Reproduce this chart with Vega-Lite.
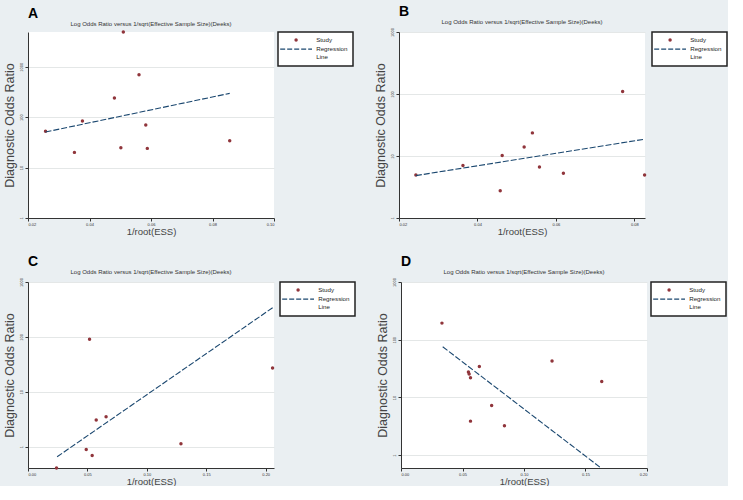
{
  "$schema": "https://vega.github.io/schema/vega-lite/v6.json",
  "background": "#eaeff2",
  "padding": {"left": 3, "top": 4, "right": 0, "bottom": 0},
  "datasets": {
    "A": [
      {"x": 0.0257, "dor": 52.3, "series": "Study"},
      {"x": 0.0351, "dor": 20.0, "series": "Study"},
      {"x": 0.0377, "dor": 84, "series": "Study"},
      {"x": 0.0481, "dor": 240, "series": "Study"},
      {"x": 0.0502, "dor": 24.8, "series": "Study"},
      {"x": 0.0510, "dor": 4875, "series": "Study"},
      {"x": 0.0561, "dor": 695, "series": "Study"},
      {"x": 0.0583, "dor": 69.8, "series": "Study"},
      {"x": 0.0588, "dor": 24, "series": "Study"},
      {"x": 0.0856, "dor": 34.1, "series": "Study"},
      {"x": 0.0257, "dor": 50.7, "series": "Regression Line"},
      {"x": 0.0856, "dor": 296, "series": "Regression Line"}
    ],
    "B": [
      {"x": 0.0243, "dor": 4.95, "series": "Study"},
      {"x": 0.0363, "dor": 7.0, "series": "Study"},
      {"x": 0.0458, "dor": 2.76, "series": "Study"},
      {"x": 0.0463, "dor": 10.2, "series": "Study"},
      {"x": 0.0519, "dor": 14.0, "series": "Study"},
      {"x": 0.0540, "dor": 23.6, "series": "Study"},
      {"x": 0.0558, "dor": 6.67, "series": "Study"},
      {"x": 0.0619, "dor": 5.27, "series": "Study"},
      {"x": 0.0770, "dor": 110, "series": "Study"},
      {"x": 0.0826, "dor": 4.95, "series": "Study"},
      {"x": 0.0243, "dor": 4.83, "series": "Regression Line"},
      {"x": 0.0827, "dor": 18.7, "series": "Regression Line"}
    ],
    "C": [
      {"x": 0.024, "dor": 0.41, "series": "Study"},
      {"x": 0.049, "dor": 0.89, "series": "Study"},
      {"x": 0.0518, "dor": 91, "series": "Study"},
      {"x": 0.054, "dor": 0.695, "series": "Study"},
      {"x": 0.0574, "dor": 3.06, "series": "Study"},
      {"x": 0.0657, "dor": 3.52, "series": "Study"},
      {"x": 0.1287, "dor": 1.13, "series": "Study"},
      {"x": 0.2058, "dor": 27.1, "series": "Study"},
      {"x": 0.0245, "dor": 0.657, "series": "Regression Line"},
      {"x": 0.2067, "dor": 350, "series": "Regression Line"}
    ],
    "D": [
      {"x": 0.0333, "dor": 194, "series": "Study"},
      {"x": 0.0548, "dor": 27.5, "series": "Study"},
      {"x": 0.0554, "dor": 25.4, "series": "Study"},
      {"x": 0.0565, "dor": 21.9, "series": "Study"},
      {"x": 0.0565, "dor": 3.89, "series": "Study"},
      {"x": 0.0637, "dor": 34.5, "series": "Study"},
      {"x": 0.0737, "dor": 7.27, "series": "Study"},
      {"x": 0.0841, "dor": 3.23, "series": "Study"},
      {"x": 0.1228, "dor": 42.7, "series": "Study"},
      {"x": 0.1632, "dor": 18.9, "series": "Study"},
      {"x": 0.0339, "dor": 75.6, "series": "Regression Line"},
      {"x": 0.1626, "dor": 0.60, "series": "Regression Line"}
    ]
  },
  "config": {
    "font": "Liberation Sans",
    "view": {"fill": "white", "stroke": null},
    "axis": {
      "domainColor": "#333333",
      "tickColor": "#333333",
      "tickSize": 3,
      "labelFontSize": 4,
      "labelColor": "#333333",
      "labelPadding": 1.5,
      "titleFontWeight": "normal",
      "titleColor": "#444444",
      "gridColor": "#e4e7e7",
      "labelFont": "Liberation Sans",
      "titleFont": "Liberation Sans"
    },
    "axisX": {"grid": false, "titlePadding": 0, "titleFontSize": 9.5},
    "axisY": {"grid": true, "labelAngle": -90, "titlePadding": 3, "titleFontSize": 12.5},
    "legend": {
      "title": null,
      "orient": "right",
      "offset": 4,
      "fillColor": "white",
      "strokeColor": "#222222",
      "padding": 5,
      "labelFontSize": 6.2,
      "labelColor": "#222222",
      "labelFont": "Liberation Sans",
      "rowPadding": 2,
      "symbolSize": 150,
      "symbolOffset": 10,
      "labelOffset": 17,
      "symbolStrokeWidth": 1.2
    }
  },
  "resolve": {"scale": {"color": "independent"}, "legend": {"color": "independent"}},
  "spacing": 18,
  "vconcat": [
    {
      "resolve": {"scale": {"color": "independent"}, "legend": {"color": "independent"}},
      "spacing": 20,
      "hconcat": [
        {
          "title": {"text": "A", "anchor": "start", "frame": "group", "fontSize": 14, "fontWeight": "bold", "color": "#000000", "offset": 0},
          "resolve": {"scale": {"color": "independent"}, "legend": {"color": "independent"}},
          "vconcat": [
            {
              "title": {"text": "Log Odds Ratio versus 1/sqrt(Effective Sample Size)(Deeks)", "fontSize": 6, "fontWeight": "normal", "color": "#333333", "anchor": "middle", "frame": "group", "offset": 3},
              "width": 246,
              "height": 186,
              "data": {"name": "A"},
              "layer": [
                {
                  "transform": [{"filter": "datum.series === 'Study'"}],
                  "mark": {"type": "point", "filled": true, "shape": "circle", "size": 12, "opacity": 1, "clip": false},
                  "encoding": {
                    "x": {"field": "x", "type": "quantitative", "scale": {"domain": [0.02, 0.10], "nice": false, "zero": false}, "axis": {"title": "1/root(ESS)", "values": [0.02, 0.04, 0.06, 0.08, 0.10], "format": ".2f"}},
                    "y": {"field": "dor", "type": "quantitative", "scale": {"type": "log", "domain": [1, 4875], "nice": false}, "axis": {"title": "Diagnostic Odds Ratio", "values": [1, 10, 100, 1000], "format": "d"}},
                    "color": {"field": "series", "type": "nominal", "scale": {"domain": ["Study", "Regression Line"], "range": ["#90353b", "#1a476f"]},
                      "legend": {"labelExpr": "datum.label === 'Regression Line' ? ['Regression', 'Line'] : datum.label",
                        "encode": {"legend": {"update": {"strokeWidth": {"value": 1.5}}}, "symbols": {"update": {"shape": {"signal": "datum.value === 'Study' ? 'circle' : 'M-2.6,0H2.6'"}, "size": {"signal": "datum.value === 'Study' ? 12 : 150"}, "strokeDash": {"signal": "datum.value === 'Study' ? [] : [5, 2]"}, "fill": {"signal": "datum.value === 'Study' ? '#90353b' : 'transparent'"}, "stroke": {"signal": "datum.value === 'Study' ? '#90353b' : '#1a476f'"}, "strokeWidth": {"signal": "datum.value === 'Study' ? 0 : 1.2"}}}}}}
                  }
                },
                {
                  "transform": [{"filter": "datum.series === 'Regression Line'"}],
                  "mark": {"type": "line", "strokeDash": [6, 2], "strokeWidth": 1.1},
                  "encoding": {
                    "x": {"field": "x", "type": "quantitative"},
                    "y": {"field": "dor", "type": "quantitative"},
                    "color": {"field": "series", "type": "nominal",
                      "legend": {"labelExpr": "datum.label === 'Regression Line' ? ['Regression', 'Line'] : datum.label",
                        "encode": {"legend": {"update": {"strokeWidth": {"value": 1.5}}}, "symbols": {"update": {"shape": {"signal": "datum.value === 'Study' ? 'circle' : 'M-2.6,0H2.6'"}, "size": {"signal": "datum.value === 'Study' ? 12 : 150"}, "strokeDash": {"signal": "datum.value === 'Study' ? [] : [5, 2]"}, "fill": {"signal": "datum.value === 'Study' ? '#90353b' : 'transparent'"}, "stroke": {"signal": "datum.value === 'Study' ? '#90353b' : '#1a476f'"}, "strokeWidth": {"signal": "datum.value === 'Study' ? 0 : 1.2"}}}}}}
                  }
                }
              ]
            }
          ]
        },
        {
          "title": {"text": "B", "anchor": "start", "frame": "group", "fontSize": 14, "fontWeight": "bold", "color": "#000000", "offset": 0},
          "resolve": {"scale": {"color": "independent"}, "legend": {"color": "independent"}},
          "vconcat": [
            {
              "title": {"text": "Log Odds Ratio versus 1/sqrt(Effective Sample Size)(Deeks)", "fontSize": 6, "fontWeight": "normal", "color": "#333333", "anchor": "middle", "frame": "group", "offset": 3},
              "width": 246,
              "height": 186,
              "data": {"name": "B"},
              "layer": [
                {
                  "transform": [{"filter": "datum.series === 'Study'"}],
                  "mark": {"type": "point", "filled": true, "shape": "circle", "size": 12, "opacity": 1, "clip": false},
                  "encoding": {
                    "x": {"field": "x", "type": "quantitative", "scale": {"domain": [0.02, 0.0827], "nice": false, "zero": false}, "axis": {"title": "1/root(ESS)", "values": [0.02, 0.04, 0.06, 0.08], "format": ".2f"}},
                    "y": {"field": "dor", "type": "quantitative", "scale": {"type": "log", "domain": [1, 1000], "nice": false}, "axis": {"title": "Diagnostic Odds Ratio", "values": [1, 10, 100, 1000], "format": "d"}},
                    "color": {"field": "series", "type": "nominal", "scale": {"domain": ["Study", "Regression Line"], "range": ["#90353b", "#1a476f"]},
                      "legend": {"labelExpr": "datum.label === 'Regression Line' ? ['Regression', 'Line'] : datum.label",
                        "encode": {"legend": {"update": {"strokeWidth": {"value": 1.5}}}, "symbols": {"update": {"shape": {"signal": "datum.value === 'Study' ? 'circle' : 'M-2.6,0H2.6'"}, "size": {"signal": "datum.value === 'Study' ? 12 : 150"}, "strokeDash": {"signal": "datum.value === 'Study' ? [] : [5, 2]"}, "fill": {"signal": "datum.value === 'Study' ? '#90353b' : 'transparent'"}, "stroke": {"signal": "datum.value === 'Study' ? '#90353b' : '#1a476f'"}, "strokeWidth": {"signal": "datum.value === 'Study' ? 0 : 1.2"}}}}}}
                  }
                },
                {
                  "transform": [{"filter": "datum.series === 'Regression Line'"}],
                  "mark": {"type": "line", "strokeDash": [6, 2], "strokeWidth": 1.1},
                  "encoding": {
                    "x": {"field": "x", "type": "quantitative"},
                    "y": {"field": "dor", "type": "quantitative"},
                    "color": {"field": "series", "type": "nominal",
                      "legend": {"labelExpr": "datum.label === 'Regression Line' ? ['Regression', 'Line'] : datum.label",
                        "encode": {"legend": {"update": {"strokeWidth": {"value": 1.5}}}, "symbols": {"update": {"shape": {"signal": "datum.value === 'Study' ? 'circle' : 'M-2.6,0H2.6'"}, "size": {"signal": "datum.value === 'Study' ? 12 : 150"}, "strokeDash": {"signal": "datum.value === 'Study' ? [] : [5, 2]"}, "fill": {"signal": "datum.value === 'Study' ? '#90353b' : 'transparent'"}, "stroke": {"signal": "datum.value === 'Study' ? '#90353b' : '#1a476f'"}, "strokeWidth": {"signal": "datum.value === 'Study' ? 0 : 1.2"}}}}}}
                  }
                }
              ]
            }
          ]
        }
      ]
    },
    {
      "resolve": {"scale": {"color": "independent"}, "legend": {"color": "independent"}},
      "spacing": 20,
      "hconcat": [
        {
          "title": {"text": "C", "anchor": "start", "frame": "group", "fontSize": 14, "fontWeight": "bold", "color": "#000000", "offset": 0},
          "resolve": {"scale": {"color": "independent"}, "legend": {"color": "independent"}},
          "vconcat": [
            {
              "title": {"text": "Log Odds Ratio versus 1/sqrt(Effective Sample Size)(Deeks)", "fontSize": 6, "fontWeight": "normal", "color": "#333333", "anchor": "middle", "frame": "group", "offset": 3},
              "width": 246,
              "height": 186,
              "data": {"name": "C"},
              "layer": [
                {
                  "transform": [{"filter": "datum.series === 'Study'"}],
                  "mark": {"type": "point", "filled": true, "shape": "circle", "size": 12, "opacity": 1, "clip": false},
                  "encoding": {
                    "x": {"field": "x", "type": "quantitative", "scale": {"domain": [0, 0.207], "nice": false, "zero": false}, "axis": {"title": "1/root(ESS)", "values": [0, 0.05, 0.10, 0.15, 0.20], "format": ".2f"}},
                    "y": {"field": "dor", "type": "quantitative", "scale": {"type": "log", "domain": [0.41, 1000], "nice": false}, "axis": {"title": "Diagnostic Odds Ratio", "values": [1, 10, 100, 1000], "format": "d"}},
                    "color": {"field": "series", "type": "nominal", "scale": {"domain": ["Study", "Regression Line"], "range": ["#90353b", "#1a476f"]},
                      "legend": {"labelExpr": "datum.label === 'Regression Line' ? ['Regression', 'Line'] : datum.label",
                        "encode": {"legend": {"update": {"strokeWidth": {"value": 1.5}}}, "symbols": {"update": {"shape": {"signal": "datum.value === 'Study' ? 'circle' : 'M-2.6,0H2.6'"}, "size": {"signal": "datum.value === 'Study' ? 12 : 150"}, "strokeDash": {"signal": "datum.value === 'Study' ? [] : [5, 2]"}, "fill": {"signal": "datum.value === 'Study' ? '#90353b' : 'transparent'"}, "stroke": {"signal": "datum.value === 'Study' ? '#90353b' : '#1a476f'"}, "strokeWidth": {"signal": "datum.value === 'Study' ? 0 : 1.2"}}}}}}
                  }
                },
                {
                  "transform": [{"filter": "datum.series === 'Regression Line'"}],
                  "mark": {"type": "line", "strokeDash": [6, 2], "strokeWidth": 1.1},
                  "encoding": {
                    "x": {"field": "x", "type": "quantitative"},
                    "y": {"field": "dor", "type": "quantitative"},
                    "color": {"field": "series", "type": "nominal",
                      "legend": {"labelExpr": "datum.label === 'Regression Line' ? ['Regression', 'Line'] : datum.label",
                        "encode": {"legend": {"update": {"strokeWidth": {"value": 1.5}}}, "symbols": {"update": {"shape": {"signal": "datum.value === 'Study' ? 'circle' : 'M-2.6,0H2.6'"}, "size": {"signal": "datum.value === 'Study' ? 12 : 150"}, "strokeDash": {"signal": "datum.value === 'Study' ? [] : [5, 2]"}, "fill": {"signal": "datum.value === 'Study' ? '#90353b' : 'transparent'"}, "stroke": {"signal": "datum.value === 'Study' ? '#90353b' : '#1a476f'"}, "strokeWidth": {"signal": "datum.value === 'Study' ? 0 : 1.2"}}}}}}
                  }
                }
              ]
            }
          ]
        },
        {
          "title": {"text": "D", "anchor": "start", "frame": "group", "fontSize": 14, "fontWeight": "bold", "color": "#000000", "offset": 0},
          "resolve": {"scale": {"color": "independent"}, "legend": {"color": "independent"}},
          "vconcat": [
            {
              "title": {"text": "Log Odds Ratio versus 1/sqrt(Effective Sample Size)(Deeks)", "fontSize": 6, "fontWeight": "normal", "color": "#333333", "anchor": "middle", "frame": "group", "offset": 3},
              "width": 246,
              "height": 186,
              "data": {"name": "D"},
              "layer": [
                {
                  "transform": [{"filter": "datum.series === 'Study'"}],
                  "mark": {"type": "point", "filled": true, "shape": "circle", "size": 12, "opacity": 1, "clip": false},
                  "encoding": {
                    "x": {"field": "x", "type": "quantitative", "scale": {"domain": [0, 0.2], "nice": false, "zero": false}, "axis": {"title": "1/root(ESS)", "values": [0, 0.05, 0.10, 0.15, 0.20], "format": ".2f"}},
                    "y": {"field": "dor", "type": "quantitative", "scale": {"type": "log", "domain": [0.6, 1000], "nice": false}, "axis": {"title": "Diagnostic Odds Ratio", "values": [1, 10, 100, 1000], "format": "d"}},
                    "color": {"field": "series", "type": "nominal", "scale": {"domain": ["Study", "Regression Line"], "range": ["#90353b", "#1a476f"]},
                      "legend": {"labelExpr": "datum.label === 'Regression Line' ? ['Regression', 'Line'] : datum.label",
                        "encode": {"legend": {"update": {"strokeWidth": {"value": 1.5}}}, "symbols": {"update": {"shape": {"signal": "datum.value === 'Study' ? 'circle' : 'M-2.6,0H2.6'"}, "size": {"signal": "datum.value === 'Study' ? 12 : 150"}, "strokeDash": {"signal": "datum.value === 'Study' ? [] : [5, 2]"}, "fill": {"signal": "datum.value === 'Study' ? '#90353b' : 'transparent'"}, "stroke": {"signal": "datum.value === 'Study' ? '#90353b' : '#1a476f'"}, "strokeWidth": {"signal": "datum.value === 'Study' ? 0 : 1.2"}}}}}}
                  }
                },
                {
                  "transform": [{"filter": "datum.series === 'Regression Line'"}],
                  "mark": {"type": "line", "strokeDash": [6, 2], "strokeWidth": 1.1},
                  "encoding": {
                    "x": {"field": "x", "type": "quantitative"},
                    "y": {"field": "dor", "type": "quantitative"},
                    "color": {"field": "series", "type": "nominal",
                      "legend": {"labelExpr": "datum.label === 'Regression Line' ? ['Regression', 'Line'] : datum.label",
                        "encode": {"legend": {"update": {"strokeWidth": {"value": 1.5}}}, "symbols": {"update": {"shape": {"signal": "datum.value === 'Study' ? 'circle' : 'M-2.6,0H2.6'"}, "size": {"signal": "datum.value === 'Study' ? 12 : 150"}, "strokeDash": {"signal": "datum.value === 'Study' ? [] : [5, 2]"}, "fill": {"signal": "datum.value === 'Study' ? '#90353b' : 'transparent'"}, "stroke": {"signal": "datum.value === 'Study' ? '#90353b' : '#1a476f'"}, "strokeWidth": {"signal": "datum.value === 'Study' ? 0 : 1.2"}}}}}}
                  }
                }
              ]
            }
          ]
        }
      ]
    }
  ]
}
